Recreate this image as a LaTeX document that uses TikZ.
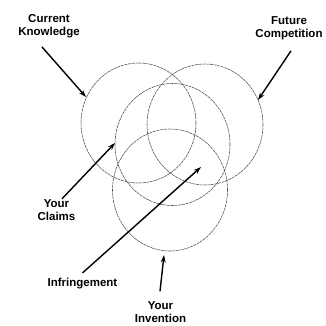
\documentclass[tikz,border=0pt]{standalone}
\usepackage{fontspec}
\setmainfont{Liberation Sans}
\usetikzlibrary{arrows.meta}

\begin{document}
\begin{tikzpicture}[x=1pt,y=-1pt,>={Stealth[length=7.5pt,width=5pt]},
ring/.style={draw=black!70,line width=0.55pt,dash pattern=on 3pt off 0.7pt},
pointer/.style={->,line width=1.4pt},
lbl/.style={font=\bfseries\fontsize{11.5}{13}\selectfont,align=center,inner sep=1pt}]
\useasboundingbox (0,0) rectangle (326,325);
\fill[white](0,0) rectangle (326,325);
% the four sets
\draw[ring](138.5,123)ellipse[x radius=57.5pt,y radius=60pt];
\draw[ring](205,124.5)ellipse[x radius=58pt,y radius=60.5pt];
\draw[ring](172.5,144.5)ellipse[x radius=57.5pt,y radius=61pt];
\draw[ring](170,190)ellipse[x radius=57.5pt,y radius=61pt];
% labels
\node[lbl](know) at (49,26){Current\\Knowledge};
\node[lbl](comp) at (289,28.5){Future\\Competition};
\node[lbl](claim) at (56.5,210.5){Your\\Claims};
\node[lbl](infr) at (82.5,284){Infringement};
\node[lbl](inv) at (160.5,312.5){Your\\Invention};
% where the arrows end
\coordinate (knowTip) at (86,97);
\coordinate (compTip) at (258,100);
\coordinate (claimTip) at (115,143);
\coordinate (infrTip) at (201,167);
\coordinate (invTip) at (164,255);
\draw[pointer]([xshift=-7pt,yshift=-8pt]know.south)--(knowTip);
\draw[pointer]([xshift=2pt,yshift=-9.5pt]comp.south)--(compTip);
\draw[pointer]([xshift=5.5pt]claim.north)--(claimTip);
\draw[pointer]([yshift=4.5pt]infr.north)--(infrTip);
\draw[pointer]([xshift=-0.5pt,yshift=9.5pt]inv.north)--(invTip);
\end{tikzpicture}
\end{document}
